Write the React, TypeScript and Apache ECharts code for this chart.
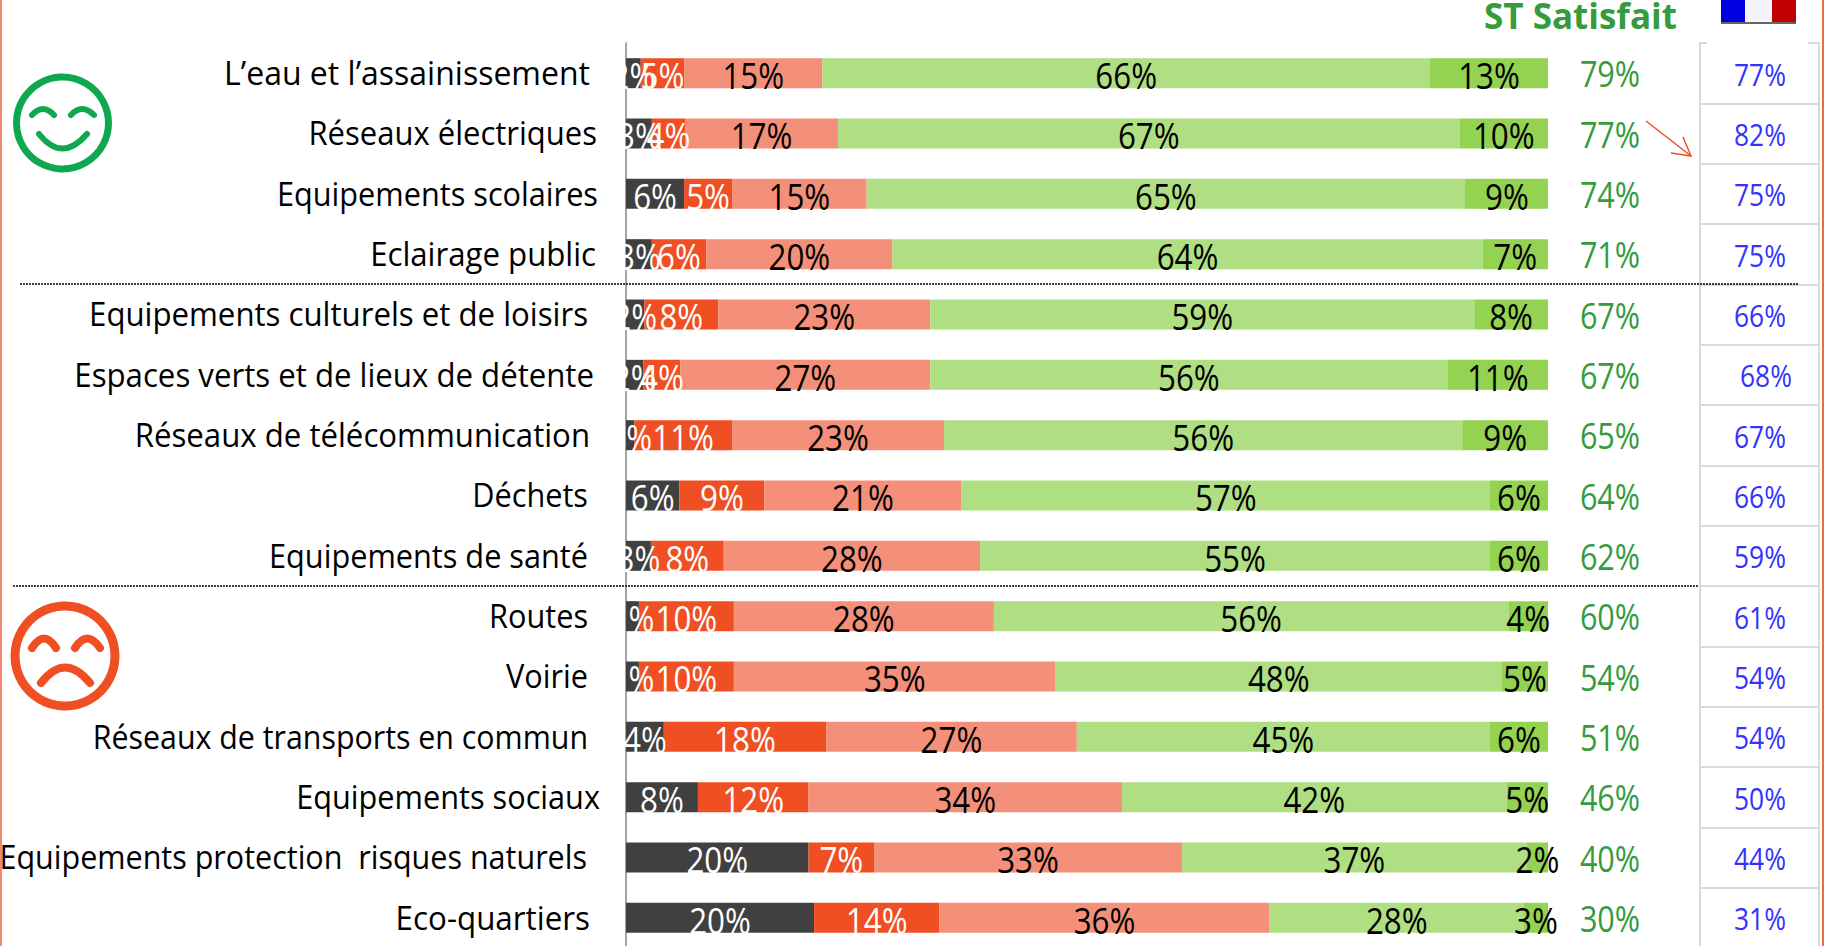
import React, { useEffect, useRef } from "react";
import * as echarts from "echarts";

const categories = [
  "L’eau et l’assainissement", "Réseaux électriques", "Equipements scolaires", "Eclairage public",
  "Equipements culturels et de loisirs", "Espaces verts et de lieux de détente", "Réseaux de télécommunication",
  "Déchets", "Equipements de santé", "Routes", "Voirie", "Réseaux de transports en commun",
  "Equipements sociaux", "Equipements protection  risques naturels", "Eco-quartiers",
];
const veryBad = [1.6, 2.8, 6.3, 2.8, 2, 1.9, 0.9, 5.8, 2.7, 1.4, 1.4, 4.1, 7.8, 19.8, 20.4];
const bad = [4.7, 3.6, 5.2, 5.9, 8, 4, 10.6, 9.2, 7.9, 10.3, 10.3, 17.6, 12, 7.1, 13.6];
const fair = [15, 16.6, 14.6, 20.2, 23, 27.1, 23, 21.4, 27.8, 28.2, 34.9, 27.2, 34, 33.4, 35.8];
const good = [65.9, 67.4, 64.9, 64, 59, 56.1, 56.2, 57.3, 55.3, 55.8, 48.4, 44.8, 41.7, 37.4, 27.6];
const veryGood = [12.8, 9.6, 9.1, 7.1, 8, 10.9, 9.3, 6.3, 6.3, 4.3, 5, 6.3, 4.5, 2.3, 2.6];
const satisfied = ["79%", "77%", "74%", "71%", "67%", "67%", "65%", "64%", "62%", "60%", "54%", "51%", "46%", "40%", "30%"];
const france = ["77%", "82%", "75%", "75%", "66%", "68%", "67%", "66%", "59%", "61%", "54%", "54%", "50%", "44%", "31%"];
const labelGaps = [36, 29, 28, 30, 38, 32, 36, 38, 38, 38, 38, 38, 26, 39, 36];
const nameScales = [0.97, 0.94, 0.93, 0.945, 0.945, 0.945, 0.945, 0.93, 0.93, 0.93, 0.93, 0.92, 0.93, 0.925, 0.95];
const franceShift = [0, 0, 0, 0, 0, 6, 0, 0, 0, 0, 0, 0, 0, 0, 0];

const FONT = '"Open Sans", sans-serif';
const GREEN = "#0fa84f";
const RED = "#f04e23";
const LABEL_SCALE = 0.87;
const SIDE_SCALE = 0.85;

const segments = [
  { name: "Très insatisfait", values: veryBad, color: "#404040", text: "#fff" },
  { name: "Insatisfait", values: bad, color: RED, text: "#fff" },
  { name: "Plutôt insatisfait", values: fair, color: "#f4907a", text: "#000" },
  { name: "Plutôt satisfait", values: good, color: "#afdf82", text: "#000" },
  { name: "Très satisfait", values: veryGood, color: "#93d351", text: "#000" },
];

function face(color: string, cx: number, cy: number, r: number, w: number, parts: number[][]) {
  const style = { stroke: color, lineWidth: w, fill: "none", lineCap: "round" };
  return [
    { type: "circle", shape: { cx, cy, r }, style: { stroke: color, lineWidth: w + 1, fill: "none" } },
    ...parts.map((p) => ({
      type: "bezierCurve",
      shape: { x1: p[0], y1: p[1], cpx1: p[2], cpy1: p[3], x2: p[4], y2: p[5] },
      style,
    })),
  ];
}

export default function App() {
  const ref = useRef<HTMLDivElement>(null);
  useEffect(() => {
    const chart = echarts.init(ref.current!, undefined, { renderer: "svg" });
    const segLabels: any[] = [];
    categories.forEach((_, row) => {
      let start = 0;
      segments.forEach((s) => {
        const v = s.values[row];
        segLabels.push({ value: [start + v / 2, row], text: Math.round(v) + "%", fill: s.text });
        start += v;
      });
    });
    const textSeries = (name: string, data: any[], render: (item: any, api: any) => any) => ({
      name,
      type: "custom",
      data,
      z: 5,
      silent: true,
      clip: false,
      encode: { x: 0, y: 1 },
      renderItem: (params: any, api: any) => render(data[params.dataIndex], api),
    });
    chart.setOption({
      animation: false,
      backgroundColor: "#fff",
      grid: [
        { left: 626, width: 922, top: 43, height: 905, outerBoundsMode: "none" },
        { left: 1700, width: 119, top: 43, height: 905, show: true, borderColor: "#d9d9d9", borderWidth: 2, backgroundColor: "transparent", outerBoundsMode: "none" },
      ],
      xAxis: [
        { type: "value", min: 0, max: 100, show: false, gridIndex: 0 },
        { type: "value", min: 0, max: 100, show: false, gridIndex: 1 },
      ],
      yAxis: [
        {
          type: "category", inverse: true, data: categories, gridIndex: 0,
          axisLine: { lineStyle: { color: "#868686", width: 1.5 } },
          axisTick: { length: 10, lineStyle: { color: "#868686", width: 1.5 } },
          axisLabel: { show: false },
        },
        {
          type: "category", inverse: true, data: france, gridIndex: 1,
          axisLine: { show: false }, axisTick: { show: false }, axisLabel: { show: false },
          splitLine: { show: true, interval: 0, lineStyle: { color: "#d9d9d9", width: 2 } },
        },
      ],
      series: [
        ...segments.map((s) => ({
          name: s.name, type: "bar", stack: "a", data: s.values, barWidth: 30,
          itemStyle: { color: s.color },
        })),
        textSeries("barLabels", segLabels, (d, api) => {
          const [x, y] = api.coord(d.value);
          return {
            type: "text", x, y: y + 2, scaleX: LABEL_SCALE,
            style: { text: d.text, fill: d.fill, font: `36px ${FONT}`, align: "center", verticalAlign: "middle" },
          };
        }),
        textSeries("names", categories.map((c, i) => ({ value: [0, i], text: c, gap: labelGaps[i], scale: nameScales[i] })), (d, api) => {
          const [x, y] = api.coord(d.value);
          return {
            type: "text", x: x - d.gap, y: y - 1, scaleX: d.scale,
            style: { text: d.text, fill: "#000", font: `33px ${FONT}`, align: "right", verticalAlign: "middle" },
          };
        }),
        textSeries("satisfied", satisfied.map((c, i) => ({ value: [100, i], text: c })), (d, api) => {
          const [x, y] = api.coord(d.value);
          return {
            type: "text", x: x + 62, y, scaleX: SIDE_SCALE,
            style: { text: d.text, fill: "#359b3d", font: `36px ${FONT}`, align: "center", verticalAlign: "middle" },
          };
        }),
        textSeries("france", france.map((c, i) => ({ value: [100, i], text: c, shift: franceShift[i] })), (d, api) => {
          const [x, y] = api.coord(d.value);
          return {
            type: "text", x: x + 212 + d.shift, y, scaleX: SIDE_SCALE,
            style: { text: d.text, fill: "#3333ff", font: `31px ${FONT}`, align: "center", verticalAlign: "middle" },
          };
        }),
      ],
      graphic: [
        { type: "rect", shape: { x: 0, y: 0, width: 2, height: 946 }, style: { fill: "#f2886c" }, z: 10 },
        { type: "rect", shape: { x: 1822, y: 0, width: 2, height: 946 }, style: { fill: "#ee6a45" }, z: 10 },
        { type: "line", shape: { x1: 20, y1: 284, x2: 1799, y2: 284 }, style: { stroke: "#000", lineWidth: 1.5, lineDash: [2, 1] }, z: 10 },
        { type: "line", shape: { x1: 13, y1: 586, x2: 1699, y2: 586 }, style: { stroke: "#000", lineWidth: 1.5, lineDash: [2, 1] }, z: 10 },
        { type: "rect", shape: { x: 1707, y: 0, width: 101, height: 45 }, style: { fill: "#fff" }, z: 10 },
        { type: "text", x: 1484, y: 15, style: { text: "ST Satisfait", fill: "#359b3d", font: `bold 35px ${FONT}`, verticalAlign: "middle" }, z: 10 },
        { type: "rect", shape: { x: 1721, y: 0, width: 24, height: 23 }, style: { fill: "#0000e0" }, z: 11 },
        { type: "rect", shape: { x: 1745, y: 0, width: 27, height: 23 }, style: { fill: "#f4f4fb" }, z: 11 },
        { type: "rect", shape: { x: 1772, y: 0, width: 24, height: 23 }, style: { fill: "#c00000" }, z: 11 },
        { type: "rect", shape: { x: 1721, y: 22, width: 75, height: 2 }, style: { fill: "#666" }, z: 12 },
        { type: "polyline", shape: { points: [[1646, 121], [1691, 156]] }, style: { stroke: RED, lineWidth: 1.5, fill: "none" }, z: 10 },
        { type: "polyline", shape: { points: [[1683, 137], [1691, 156], [1671, 153]] }, style: { stroke: RED, lineWidth: 1.5, fill: "none" }, z: 10 },
        ...face(GREEN, 62.5, 123, 46, 6, [
          [32, 115, 43, 103, 54, 115], [71, 115, 82, 103, 94, 115], [39, 134, 62, 163, 87, 134],
        ]).map((e) => ({ ...e, z: 10 })),
        ...face(RED, 65, 656, 50, 8, [
          [32, 648, 44, 629, 56, 648], [75, 648, 87, 629, 100, 648], [41, 683, 65, 652, 90, 683],
        ]).map((e) => ({ ...e, z: 10 })),
      ],
    });
    return () => chart.dispose();
  }, []);
  return <div ref={ref} style={{ position: "absolute", left: 0, top: 0, width: 1825, height: 946 }} />;
}
